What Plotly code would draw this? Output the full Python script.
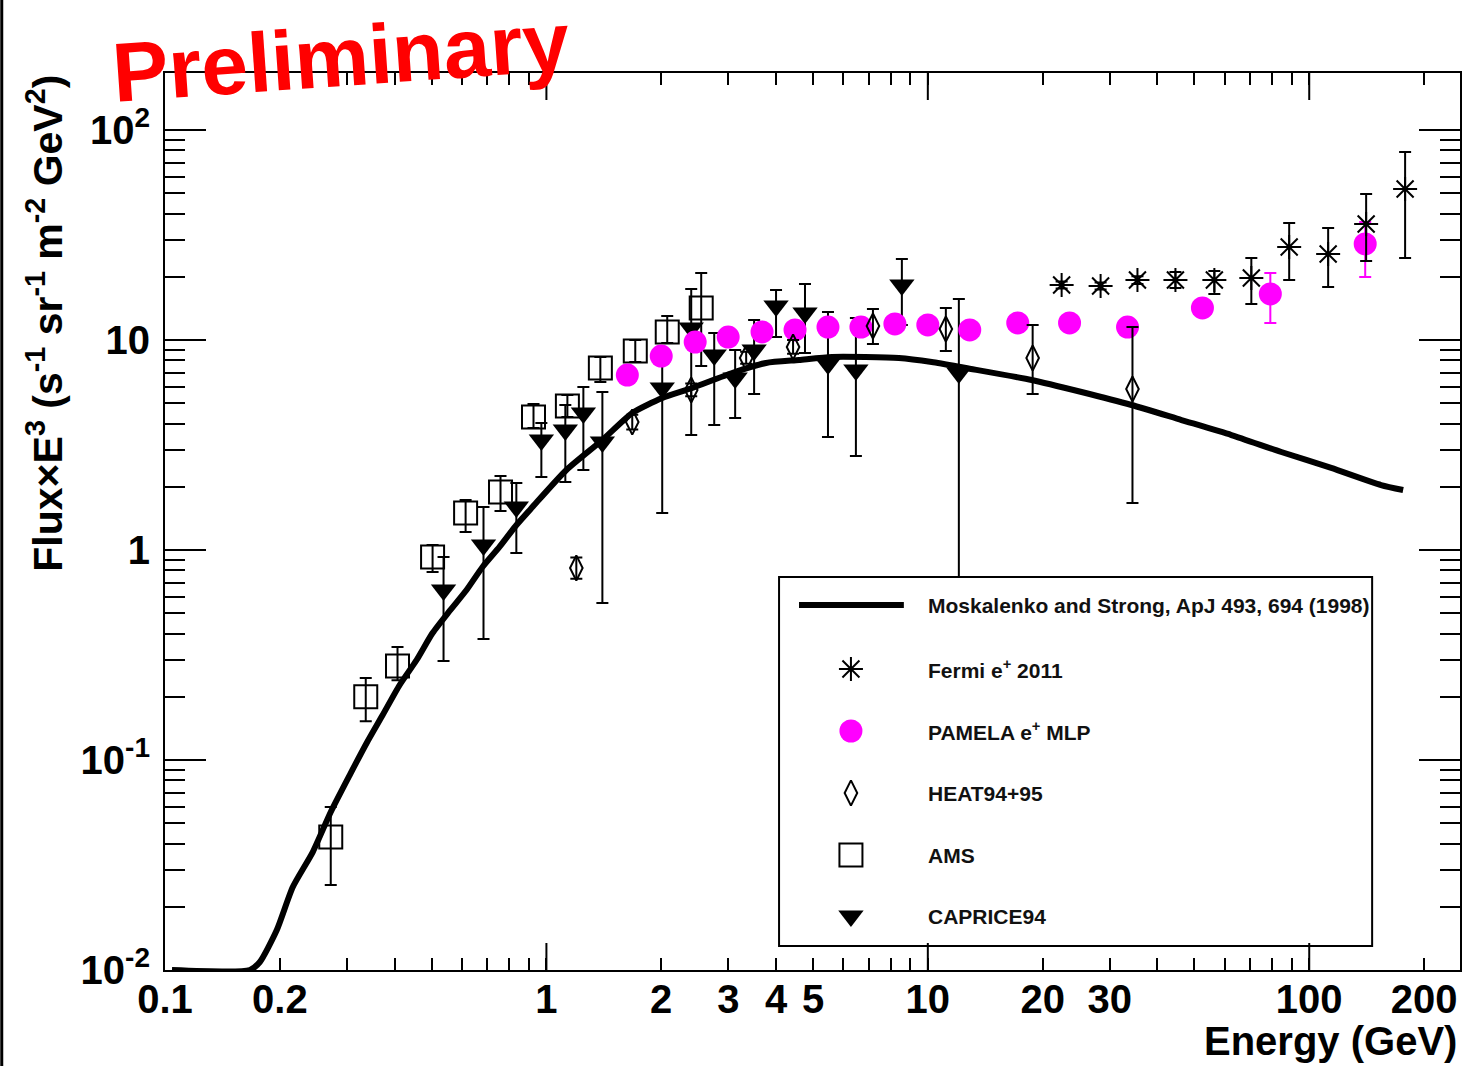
import plotly.graph_objects as go

# ---------------- data ----------------
# GALPROP-style secondary positron prediction (Moskalenko & Strong 1998)
model_energy = [0.1043, 0.1669, 0.1773, 0.1964, 0.2163, 0.2440, 0.2720, 0.3050, 0.3379,
                0.3721, 0.4123, 0.4567, 0.5029, 0.5573, 0.6174, 0.6800, 0.7533, 0.8345,
                0.9191, 1.128, 1.402, 1.679, 2.012, 2.411, 3.069, 3.766, 4.596, 5.608,
                8.396, 10.24, 12.58, 18.72, 25.30, 34.20, 46.24, 62.50, 84.49, 114.2,
                154.3, 176.3]
model_flux = [0.0100, 0.0100, 0.01092, 0.01551, 0.02485, 0.03646, 0.05655, 0.0848, 0.1205,
              0.1637, 0.2276, 0.2994, 0.4025, 0.5124, 0.6449, 0.8301, 1.034, 1.315,
              1.602, 2.404, 3.340, 4.491, 5.294, 5.907, 6.963, 7.772, 8.031, 8.299,
              8.209, 7.857, 7.356, 6.450, 5.653, 4.903, 4.159, 3.528, 2.929, 2.458,
              2.039, 1.931]

# Fermi e+ 2011
fermi_energy = [22.43, 28.38, 35.45, 44.59, 56.40, 70.5, 88.6, 112.1, 141.0, 178.4]
fermi_flux = [18.28, 18.08, 19.31, 19.31, 19.31, 19.73, 27.73, 25.67, 35.68, 52.36]
fermi_hi = [19.0, 18.8, 20.1, 21.08, 21.31, 24.58, 36.07, 34.15, 49.57, 78.6]
fermi_lo = [17.6, 17.4, 18.5, 17.69, 16.56, 14.84, 19.31, 17.88, 23.78, 24.58]

# PAMELA e+ MLP
pamela_energy = [1.630, 2.000, 2.455, 2.996, 3.676, 4.486, 5.473, 6.677, 8.197, 10.00,
                 12.88, 17.21, 23.53, 33.39, 52.48, 79.07, 140.2]
pamela_flux = [6.81, 8.39, 9.78, 10.33, 10.92, 11.16, 11.53, 11.53, 11.92, 11.79,
               11.16, 12.05, 12.05, 11.53, 14.21, 16.56, 28.66]
pamela_hi = [7.15, 8.81, 10.27, 10.85, 11.47, 11.72, 12.11, 12.11, 12.52, 12.38,
             11.72, 12.65, 12.65, 12.11, 14.92, 20.84, 36.48]
pamela_lo = [6.47, 7.97, 9.29, 9.81, 10.37, 10.60, 10.95, 10.95, 11.32, 11.20,
             10.60, 11.45, 11.45, 10.95, 13.50, 12.05, 19.95]

# HEAT94+95
heat_energy = [1.198, 1.679, 2.397, 3.340, 4.433, 7.18, 11.15, 18.83, 34.4]
heat_flux = [0.821, 4.07, 5.78, 8.21, 9.26, 11.66, 11.28, 8.21, 5.84]
heat_hi = [0.92, 4.40, 6.20, 8.80, 10.0, 14.05, 14.21, 11.79, 11.53]
heat_lo = [0.73, 3.75, 5.40, 7.70, 8.60, 9.57, 8.86, 5.53, 1.674]

# AMS
ams_energy = [0.272, 0.336, 0.407, 0.503, 0.614, 0.758, 0.925, 1.135, 1.385, 1.710, 2.074, 2.546]
ams_flux = [0.0430, 0.200, 0.280, 0.926, 1.500, 1.889, 4.30, 4.85, 7.36, 8.86, 10.92, 14.21]
ams_hi = [0.0597, 0.246, 0.345, 1.056, 1.730, 2.251, 4.96, 5.47, 8.30, 10.0, 13.01, 20.84]
ams_lo = [0.0254, 0.153, 0.240, 0.786, 1.218, 1.533, 3.81, 4.30, 6.31, 7.86, 9.67, 7.52]

# CAPRICE94
caprice_energy = [0.5374, 0.684, 0.834, 0.970, 1.121, 1.250, 1.402, 2.012, 2.397, 2.754,
                  3.125, 3.504, 4.000, 4.764, 5.473, 6.478, 8.55, 12.06]
caprice_flux = [0.645, 1.056, 1.602, 3.34, 3.73, 4.49, 3.27, 5.91, 11.41, 8.48,
                6.59, 8.96, 14.52, 13.45, 7.69, 7.20, 18.28, 6.96]
caprice_hi = [0.926, 1.602, 2.085, 4.03, 4.90, 5.97, 5.65, 8.96, 17.5, 10.80,
              8.96, 12.45, 17.30, 18.48, 13.6, 12.73, 24.3, 15.68]
caprice_lo = [0.296, 0.377, 0.968, 2.227, 2.108, 2.404, 0.559, 1.500, 3.53, 3.94,
              4.25, 5.53, 10.33, 8.67, 3.45, 2.80, 11.79, 0.744]

# axis ticks
x_label_vals = [0.1, 0.2, 1, 2, 3, 4, 5, 10, 20, 30, 100, 200]
x_label_text = ["0.1", "0.2", "1", "2", "3", "4", "5", "10", "20", "30", "100", "200"]
x_minor_vals = [0.3, 0.4, 0.5, 0.6, 0.7, 0.8, 0.9, 6, 7, 8, 9, 40, 50, 60, 70, 80, 90]
x_decade_vals = [1, 10, 100]
y_label_vals = [0.01, 0.1, 1, 10, 100]
y_label_text = ["10<sup>-2</sup>", "10<sup>-1</sup>", "1", "10", "10<sup>2</sup>"]
y_minor_vals = [m * d for d in (0.01, 0.1, 1, 10) for m in range(2, 10)]

legend_labels = ["Moskalenko and Strong, ApJ 493, 694 (1998)", "Fermi e<sup>+</sup> 2011",
                 "PAMELA e<sup>+</sup> MLP", "HEAT94+95", "AMS", "CAPRICE94"]

# ---------------- geometry ----------------
W, H = 1464, 1066
ML, MR, MT, MB = 165, 2, 73, 96
PW, PH = W - ML - MR, H - MT - MB
FONT = "Liberation Sans, Arial, Helvetica, sans-serif"


def px_x(p):
    return (p - ML) / PW


def px_y(p):
    return 1 - (p - MT) / PH


def err(vals, hi, lo):
    return ([h - v for h, v in zip(hi, vals)], [v - l for v, l in zip(vals, lo)])


fig = go.Figure()

# model curve
fig.add_trace(go.Scatter(x=model_energy, y=model_flux, mode="lines",
                         line=dict(color="black", width=6, shape="spline", smoothing=0.6),
                         showlegend=False))

series = [
    (ams_energy, ams_flux, ams_hi, ams_lo,
     dict(symbol="square-open", size=23, color="black", line=dict(width=2, color="black")), "black"),
    (caprice_energy, caprice_flux, caprice_hi, caprice_lo,
     dict(symbol="triangle-down", size=22, color="black"), "black"),
    (pamela_energy, pamela_flux, pamela_hi, pamela_lo,
     dict(symbol="circle", size=23, color="#ff00ff"), "#ff00ff"),
    (heat_energy, heat_flux, heat_hi, heat_lo,
     dict(symbol="diamond-tall-open", size=18, color="black", line=dict(width=2, color="black")), "black"),
    (fermi_energy, fermi_flux, fermi_hi, fermi_lo,
     dict(symbol="asterisk-open", size=20, color="black", line=dict(width=2, color="black")), "black"),
]
for e, f, hi, lo, mk, ecol in series:
    up, dn = err(f, hi, lo)
    fig.add_trace(go.Scatter(
        x=e, y=f, mode="markers", marker=mk, showlegend=False,
        error_y=dict(type="data", symmetric=False, array=up, arrayminus=dn,
                     color=ecol, thickness=2, width=6)))

# ---------------- legend box (drawn by hand, ROOT style) ----------------
box_l, box_r, box_t, box_b = 780, 1374, 577, 946
key_x = 852
row_y = [605, 669, 731, 793, 855, 916]
text_x = 927

key_markers = [
    dict(symbol="asterisk-open", size=20, color="black", line=dict(width=2, color="black")),
    dict(symbol="circle", size=23, color="#ff00ff"),
    dict(symbol="diamond-tall-open", size=18, color="black", line=dict(width=2, color="black")),
    dict(symbol="square-open", size=23, color="black", line=dict(width=2, color="black")),
    dict(symbol="triangle-down", size=22, color="black"),
]
for mk, ry in zip(key_markers, row_y[1:]):
    fig.add_trace(go.Scatter(x=[key_x - ML], y=[ry - MT], mode="markers", marker=mk,
                             xaxis="x2", yaxis="y2", showlegend=False, hoverinfo="skip"))

shapes = [
    dict(type="rect", xref="paper", yref="paper", x0=px_x(box_l), x1=px_x(box_r),
         y0=px_y(box_b), y1=px_y(box_t), line=dict(color="black", width=2),
         fillcolor="white", layer="below"),
    dict(type="line", xref="paper", yref="paper", x0=px_x(800), x1=px_x(905),
         y0=px_y(row_y[0]), y1=px_y(row_y[0]), line=dict(color="black", width=6)),
    # dark border strip on the left edge of the page
    dict(type="rect", xref="paper", yref="paper", x0=px_x(0), x1=px_x(3),
         y0=px_y(H), y1=px_y(0), line=dict(width=0), fillcolor="black"),
]
# long decade ticks on bottom and top axes
for v in x_decade_vals:
    shapes.append(dict(type="line", xref="x", yref="paper", x0=v, x1=v, y0=0, y1=27 / PH,
                       line=dict(color="black", width=2)))
    shapes.append(dict(type="line", xref="x", yref="paper", x0=v, x1=v, y0=1, y1=1 - 27 / PH,
                       line=dict(color="black", width=2)))

annotations = []
for txt, ry in zip(legend_labels, row_y):
    annotations.append(dict(x=px_x(text_x), y=px_y(ry), xref="paper", yref="paper",
                            xanchor="left", yanchor="middle", showarrow=False, text=txt,
                            font=dict(family=FONT, size=21, color="#111111", weight="bold")))

annotations += [
    dict(x=px_x(341), y=px_y(57), xref="paper", yref="paper", showarrow=False,
         text="Preliminary", textangle=-4, xanchor="center", yanchor="middle",
         font=dict(family=FONT, size=84, color="#ff0000", weight="bold")),
    dict(x=px_x(1461), y=px_y(1041), xref="paper", yref="paper", showarrow=False,
         text="Energy (GeV)", xanchor="right", yanchor="middle",
         font=dict(family=FONT, size=40, color="black", weight="bold")),
    dict(x=px_x(44), y=px_y(73), xref="paper", yref="paper", showarrow=False,
         text="Flux\u00d7E<sup>3</sup> (s<sup>-1</sup> sr<sup>-1</sup> m<sup>-2</sup> GeV<sup>2</sup>)",
         textangle=-90, xanchor="center", yanchor="top",
         font=dict(family=FONT, size=41, color="black", weight="bold")),
]

tick_font = dict(family=FONT, size=40, color="black", weight="bold")

fig.update_layout(
    width=W, height=H, autosize=False,
    margin=dict(l=ML, r=MR, t=MT, b=MB, pad=0),
    paper_bgcolor="white", plot_bgcolor="white",
    showlegend=False,
    xaxis=dict(type="log", range=[-1.0, 2.3953], showgrid=False, zeroline=False,
               showline=True, linecolor="black", linewidth=2, mirror="ticks",
               ticks="inside", ticklen=12, tickwidth=2, tickcolor="black",
               tickmode="array", tickvals=x_label_vals, ticktext=x_label_text,
               tickfont=tick_font, ticklabelstandoff=-7,
               minor=dict(ticks="inside", ticklen=12, tickwidth=2, tickcolor="black",
                          tickmode="array", tickvals=x_minor_vals, showgrid=False)),
    yaxis=dict(type="log", range=[-2.0, 2.2714], showgrid=False, zeroline=False,
               showline=True, linecolor="black", linewidth=2, mirror="ticks",
               ticks="inside", ticklen=41, tickwidth=2, tickcolor="black",
               tickmode="array", tickvals=y_label_vals, ticktext=y_label_text,
               tickfont=tick_font, ticklabelstandoff=5,
               minor=dict(ticks="inside", ticklen=20, tickwidth=2, tickcolor="black",
                          tickmode="array", tickvals=y_minor_vals, showgrid=False)),
    xaxis2=dict(overlaying="x", range=[0, PW], visible=False, fixedrange=True),
    yaxis2=dict(overlaying="y", range=[PH, 0], visible=False, fixedrange=True),
    shapes=shapes,
    annotations=annotations,
)

fig.write_html("out.html")
